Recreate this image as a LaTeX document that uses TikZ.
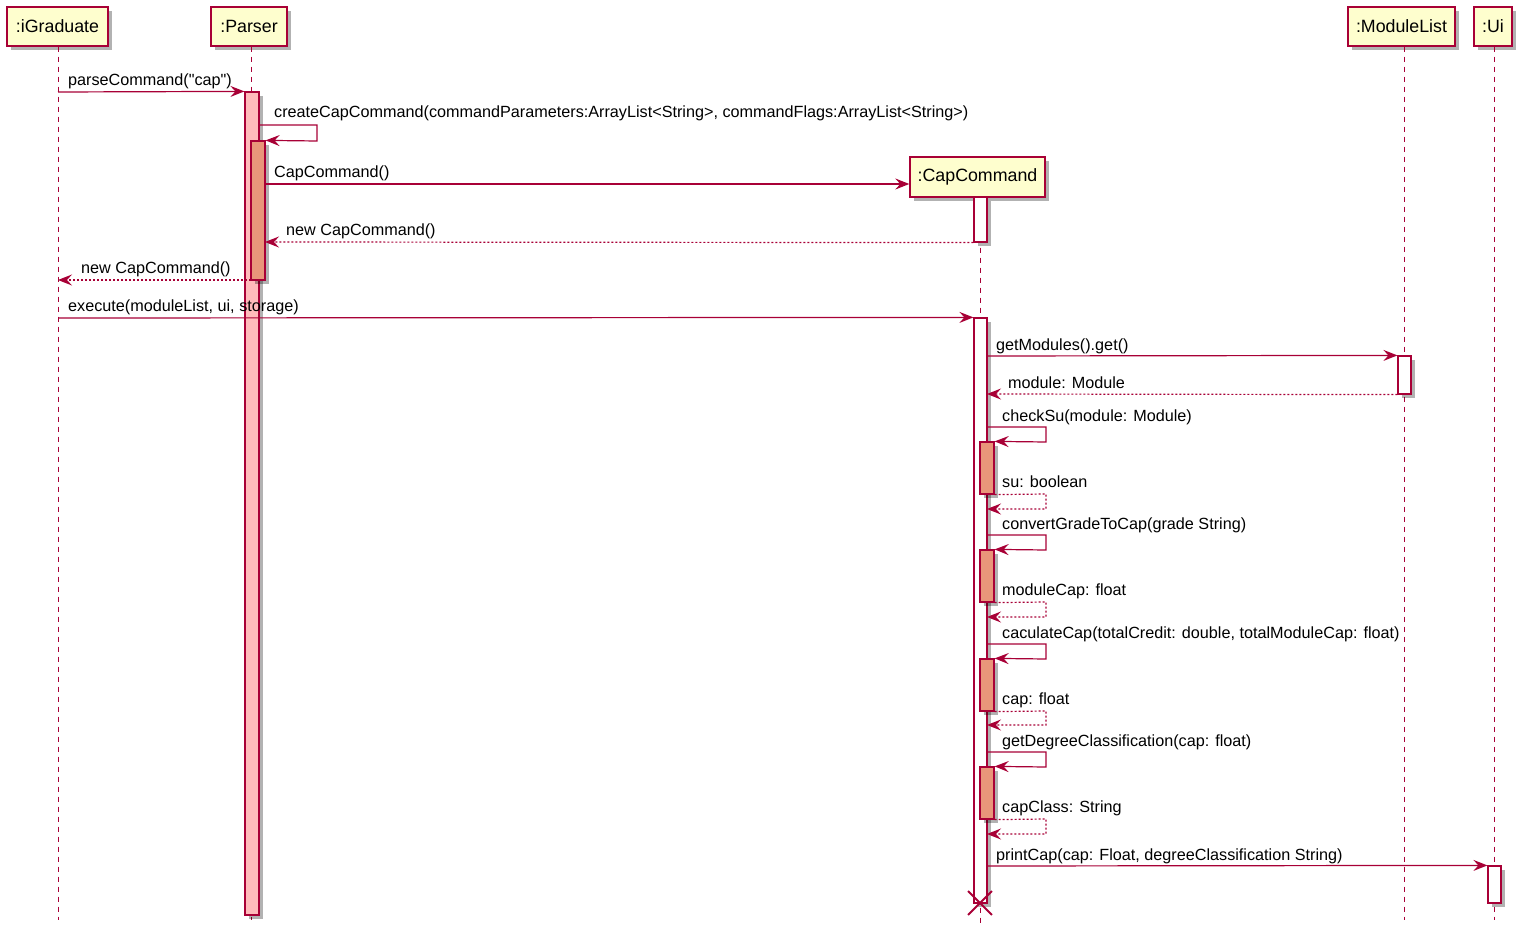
\documentclass[tikz,border=0pt]{standalone}
\usepackage{fontspec}
\setmainfont{Liberation Sans}
\usetikzlibrary{arrows.meta,shadows,fit,shapes.misc}
\definecolor{pline}{HTML}{A80036}
\definecolor{pfill}{HTML}{FEFECE}
\definecolor{parsact}{HTML}{FFBBBB}
\definecolor{nestact}{HTML}{E9967A}
\begin{document}
\begin{tikzpicture}[x=1pt,y=-1pt,
  shad/.style={drop shadow={shadow xshift=4pt,shadow yshift=-4pt,fill=black,opacity=0.3}},
  part/.style={draw=pline,fill=pfill,line width=1.4pt,inner sep=0pt,minimum height=39pt,
    font=\fontsize{17.8}{20}\selectfont,shad},
  life/.style={draw=pline,line width=1pt,dash pattern=on 5pt off 5pt},
  act/.style={draw=pline,line width=1.2pt,inner sep=0pt,shad},
  msg/.style={draw=pline,line width=1.2pt,-{Stealth[length=14pt,width=11pt,inset=5pt]}},
  ret/.style={msg,dash pattern=on 2pt off 2pt},
  lbl/.style={anchor=base west,inner sep=0pt,font=\fontsize{16.2}{18}\selectfont},
  kill/.style={cross out,draw=pline,line width=1.8pt,minimum size=22pt,inner sep=0pt}]
\useasboundingbox (0,0) rectangle (1526,933);
% participants
\node[part,minimum width=101pt] (ig) at (57.5,26.5) {:iGraduate};
\node[part,minimum width=76pt] (ps) at (249,26.5) {:Parser};
\node[part,minimum width=107pt] (ml) at (1401.5,26.5) {:ModuleList};
\node[part,minimum width=38pt] (ui) at (1493,26.5) {:Ui};
% lifeline ends
\coordinate (igE) at (58,920);
\coordinate (psE) at (251,920);
\coordinate (mlE) at (1404,920);
\coordinate (uiE) at (1494,920);
\coordinate (ccE) at (980,925);
\draw[life] (igE |- ig.south) -- (igE);
\draw[life] (psE |- ps.south) -- (psE);
\draw[life] (mlE |- ml.south) -- (mlE);
\draw[life] (uiE |- ui.south) -- (uiE);
% CapCommand
\node[part,minimum width=135pt,minimum height=40pt] (cc) at (977.5,177) {:CapCommand};
\draw[life] (ccE |- cc.south) -- (ccE);
% activation bars
\node[act,fill=parsact,fit={(245,92) (259,915)}] (pa) {};
\node[act,fill=nestact,fit={(251,141) (265,280)}] (pn) {};
\node[act,fill=white,fit={(974,197) (987,242)}] (ca1) {};
\node[act,fill=white,fit={(974,318) (987,903)}] (ca2) {};
\node[act,fill=white,fit={(1398,356) (1411,394)}] (mla) {};
\node[act,fill=nestact,fit={(980,442) (994,494)}] (n1) {};
\node[act,fill=nestact,fit={(980,550) (994,602)}] (n2) {};
\node[act,fill=nestact,fit={(980,659) (994,711)}] (n3) {};
\node[act,fill=nestact,fit={(980,767) (994,819)}] (n4) {};
\node[act,fill=white,fit={(1488,866) (1501,903)}] (uia) {};
\node[kill] (x) at (980,903) {};
% messages
\coordinate (m1) at (58,92);
\draw[msg] (m1) -- (pa.north west);
\node[lbl] (l1) at (68,86) {parseCommand(\textquotedbl cap\textquotedbl)};

\coordinate (s1a) at (259,125);
\coordinate (s1b) at (317,125);
\coordinate (s1c) at (317,141);
\draw[msg] (s1a) -- (s1b) -- (s1c) -- (pn.north east);
\node[lbl] (l2) at (274,118) {createCapCommand(commandParameters:ArrayList<String>, commandFlags:ArrayList<String>)};

\coordinate (m3) at (265,184);
\draw[msg] (m3) -- (cc.west |- m3);
\node[lbl] (l3) at (274,178) {CapCommand()};

\coordinate (r1) at (265,242);
\draw[ret] (ca1.south west) -- (r1);
\node[lbl] (l4) at (286,236) {new CapCommand()};

\coordinate (r2a) at (251,280);
\coordinate (r2b) at (58,280);
\draw[ret] (r2a) -- (r2b);
\node[lbl] (l5) at (81,274) {new CapCommand()};

\coordinate (m4) at (58,318);
\draw[msg] (m4) -- (ca2.north west);
\node[lbl] (l6) at (68,312) {execute(moduleList, ui, storage)};

\coordinate (m5) at (987,356);
\draw[msg] (m5) -- (mla.north west);
\node[lbl] (l7) at (996,350) {getModules().get()};

\coordinate (r3) at (987,394);
\draw[ret] (mla.south west) -- (r3);
\node[lbl] (l8) at (1008,388) {module: Module};

% self calls on CapCommand
\foreach \n/\ya/\yb/\yc/\yd/\ta/\tb in {
  n1/427/442/494/509/{checkSu(module: Module)}/{su: boolean},
  n2/535/550/602/617/{convertGradeToCap(grade String)}/{moduleCap: float},
  n3/644/659/711/725/{caculateCap(totalCredit: double, totalModuleCap: float)}/{cap: float},
  n4/752/767/819/834/{getDegreeClassification(cap: float)}/{capClass: String}}{
  \coordinate (\n a) at (987,\ya);
  \coordinate (\n b) at (1046,\ya);
  \coordinate (\n c) at (1046,\yb);
  \draw[msg] (\n a) -- (\n b) -- (\n c) -- (\n.north east);
  \coordinate (\n d) at (1046,\yc);
  \coordinate (\n e) at (1046,\yd);
  \coordinate (\n f) at (987,\yd);
  \draw[ret] (\n.south east) -- (\n d) -- (\n e) -- (\n f);
  \node[lbl] (\n t1) at (1002,\ya-6) {\ta};
  \node[lbl] (\n t2) at (1002,\yc-7) {\tb};
}

\coordinate (m6) at (987,866);
\draw[msg] (m6) -- (uia.north west);
\node[lbl] (l9) at (996,860) {printCap(cap: Float, degreeClassification String)};
\end{tikzpicture}
\end{document}
